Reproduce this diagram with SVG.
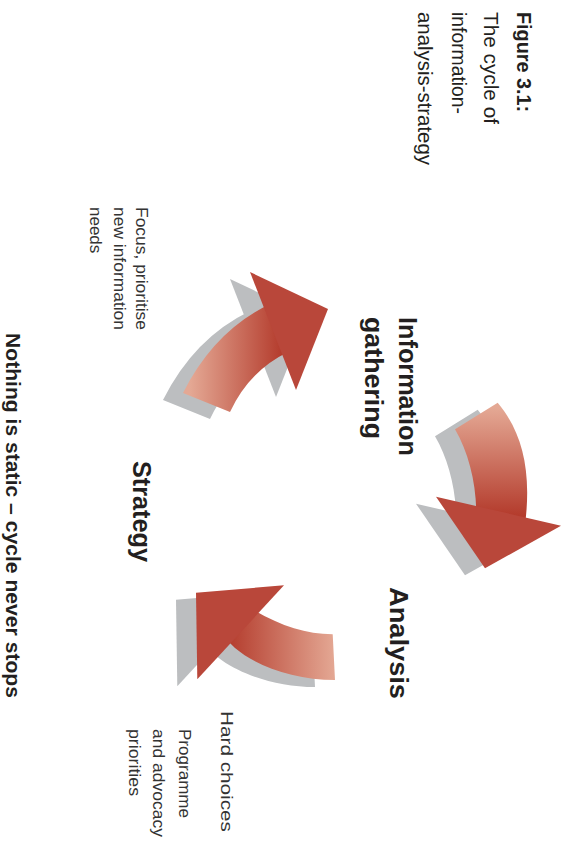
<svg xmlns="http://www.w3.org/2000/svg" width="567" height="844" viewBox="0 0 567 844">
  <defs>
    <style>
      .t { font-family: "Liberation Sans", Arial, Helvetica, sans-serif; fill: #231f20; }
      .b { font-weight: bold; }
      .lbl { font-size: 26px; font-weight: bold; }
      .cap { font-size: 20.5px; }
      .note { font-size: 17px; fill: #333; }
      .shadow { fill: #bcbec0; }
      .head { fill: #b9473a; }
    </style>
    <linearGradient id="g1" gradientUnits="userSpaceOnUse" x1="190" y1="0" x2="282" y2="0">
      <stop offset="0" stop-color="#e4a894"/>
      <stop offset="1" stop-color="#b43c2d"/>
    </linearGradient>
    <linearGradient id="g2" gradientUnits="userSpaceOnUse" x1="0" y1="408" x2="0" y2="515">
      <stop offset="0" stop-color="#e4a894"/>
      <stop offset="1" stop-color="#b43c2d"/>
    </linearGradient>
    <linearGradient id="g3" gradientUnits="userSpaceOnUse" x1="335" y1="0" x2="228" y2="0">
      <stop offset="0" stop-color="#e4a894"/>
      <stop offset="1" stop-color="#b43c2d"/>
    </linearGradient>
  </defs>

  <rect width="567" height="844" fill="#ffffff"/>

  <g id="connectors">
    <!-- Strategy -> Information gathering -->
    <g id="arrow-strategy-info">
      <g class="shadow" transform="translate(-20,7)">
        <path d="M183,393 Q214,331 270,304 L288,352 Q249,371 230,412 Z"/>
        <polygon points="250,272 328,309 296,390"/>
      </g>
      <path d="M183,393 Q214,331 270,304 L288,352 Q249,371 230,412 Z" fill="url(#g1)"/>
      <polygon class="head" points="250,272 328,309 296,390"/>
    </g>
    <!-- Information gathering -> Analysis -->
    <g id="arrow-info-analysis">
      <g class="shadow" transform="translate(-20,7)">
        <path d="M455,429.3 L497.7,402.7 C522,432 532,470 525,525 L476,525 C478,490 470,455 455,429.3 Z"/>
        <polygon points="436,496.7 561,525.7 485,568.3"/>
      </g>
      <path d="M455,429.3 L497.7,402.7 C522,432 532,470 525,525 L476,525 C478,490 470,455 455,429.3 Z" fill="url(#g2)"/>
      <polygon class="head" points="436,496.7 561,525.7 485,568.3"/>
    </g>
    <!-- Analysis -> Strategy -->
    <g id="arrow-analysis-strategy">
      <g class="shadow" transform="translate(-20,7)">
        <path d="M332.7,634.3 C305,634 280,626 250,608 L222,632 C235,658 285,680 335,680 Z"/>
        <polygon points="196,592.7 284,585.3 197.3,679.3"/>
      </g>
      <path d="M332.7,634.3 C305,634 280,626 250,608 L222,632 C235,658 285,680 335,680 Z" fill="url(#g3)"/>
      <polygon class="head" points="196,592.7 284,585.3 197.3,679.3"/>
    </g>
  </g>

  <g id="title">
    <text class="t cap b" transform="translate(517,12) rotate(90)" textLength="100" lengthAdjust="spacingAndGlyphs">Figure 3.1:</text>
    <text class="t cap" transform="translate(484,12) rotate(90)" textLength="112" lengthAdjust="spacingAndGlyphs">The cycle of</text>
    <text class="t cap" transform="translate(451.5,12) rotate(90)" textLength="102" lengthAdjust="spacingAndGlyphs">information-</text>
    <text class="t cap" transform="translate(418,12) rotate(90)" textLength="153" lengthAdjust="spacingAndGlyphs">analysis-strategy</text>
  </g>

  <g id="node-information-gathering">
    <text class="t lbl" transform="translate(398.5,317) rotate(90)" textLength="139" lengthAdjust="spacingAndGlyphs">Information</text>
    <text class="t lbl" transform="translate(365,317) rotate(90)" textLength="122" lengthAdjust="spacingAndGlyphs">gathering</text>
  </g>

  <g id="node-analysis">
    <text class="t lbl" transform="translate(390,587) rotate(90)" textLength="112" lengthAdjust="spacingAndGlyphs">Analysis</text>
  </g>

  <g id="node-strategy">
    <text class="t lbl" transform="translate(133,461) rotate(90)" textLength="101" lengthAdjust="spacingAndGlyphs">Strategy</text>
  </g>

  <g id="note-focus">
    <text class="t note" transform="translate(136,207) rotate(90)" textLength="123" lengthAdjust="spacingAndGlyphs">Focus, prioritise</text>
    <text class="t note" transform="translate(114,207) rotate(90)" textLength="123" lengthAdjust="spacingAndGlyphs">new information</text>
    <text class="t note" transform="translate(89.5,207) rotate(90)">needs</text>
  </g>

  <g id="note-hard-choices">
    <text class="t note" transform="translate(221,711) rotate(90)" textLength="121" lengthAdjust="spacingAndGlyphs">Hard choices</text>
    <text class="t note" transform="translate(179,729) rotate(90)" textLength="89" lengthAdjust="spacingAndGlyphs">Programme</text>
    <text class="t note" transform="translate(153,729) rotate(90)" textLength="108" lengthAdjust="spacingAndGlyphs">and advocacy</text>
    <text class="t note" transform="translate(129,729) rotate(90)" textLength="67" lengthAdjust="spacingAndGlyphs">priorities</text>
  </g>

  <g id="footer">
    <text class="t b" font-size="20" transform="translate(6,333) rotate(90)" textLength="365" lengthAdjust="spacingAndGlyphs">Nothing is static – cycle never stops</text>
  </g>
</svg>
